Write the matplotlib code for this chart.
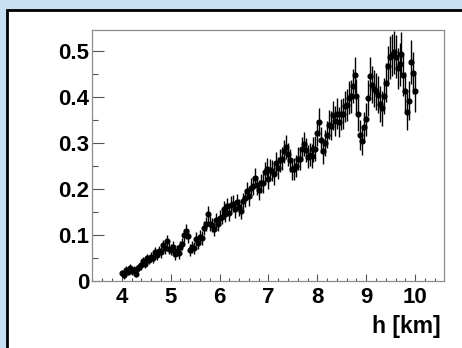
import numpy as np
import matplotlib
matplotlib.use("Agg")
import matplotlib.pyplot as plt
from matplotlib.patches import Rectangle
from matplotlib.ticker import MultipleLocator

plt.rcParams['font.family'] = ['Liberation Sans', 'DejaVu Sans']
plt.rcParams['font.weight'] = 'bold'

# altitude bins (km), 0.04 km wide
h_start = 4.0
h_step = 0.04

# measured values per bin
values = [
    0.018, 0.012, 0.024, 0.019, 0.028, 0.022, 0.025, 0.015, 0.026, 0.031,
    0.034, 0.044, 0.038, 0.049, 0.046, 0.053, 0.050, 0.062, 0.057, 0.066,
    0.063, 0.078, 0.072, 0.086, 0.070, 0.068, 0.075, 0.058, 0.066, 0.060,
    0.074, 0.080, 0.099, 0.108, 0.097, 0.068, 0.074, 0.072, 0.092, 0.082,
    0.096, 0.094, 0.116, 0.124, 0.145, 0.125, 0.122, 0.112, 0.132, 0.124,
    0.138, 0.140, 0.156, 0.146, 0.162, 0.148, 0.166, 0.168, 0.156, 0.172,
    0.160, 0.152, 0.174, 0.180, 0.196, 0.184, 0.202, 0.206, 0.224, 0.208,
    0.198, 0.212, 0.212, 0.236, 0.244, 0.222, 0.242, 0.240, 0.232, 0.256,
    0.246, 0.262, 0.266, 0.282, 0.292, 0.276, 0.262, 0.244, 0.244, 0.250,
    0.266, 0.266, 0.286, 0.298, 0.284, 0.270, 0.274, 0.272, 0.286, 0.288,
    0.322, 0.346, 0.306, 0.282, 0.300, 0.318, 0.340, 0.338, 0.360, 0.348,
    0.364, 0.346, 0.362, 0.364, 0.380, 0.382, 0.398, 0.402, 0.424, 0.448,
    0.402, 0.362, 0.318, 0.305, 0.334, 0.352, 0.398, 0.445, 0.427, 0.418,
    0.412, 0.405, 0.384, 0.376, 0.402, 0.431, 0.468, 0.486, 0.492, 0.497,
    0.488, 0.462, 0.471, 0.493, 0.447, 0.412, 0.368, 0.392, 0.476, 0.452,
    0.412,
]

# uncertainty per bin
errors = [
    0.007, 0.007, 0.008, 0.007, 0.008, 0.008, 0.007, 0.007, 0.008, 0.008,
    0.009, 0.009, 0.009, 0.010, 0.010, 0.010, 0.011, 0.011, 0.011, 0.011,
    0.012, 0.012, 0.013, 0.013, 0.012, 0.012, 0.013, 0.012, 0.012, 0.012,
    0.013, 0.013, 0.014, 0.016, 0.015, 0.013, 0.013, 0.013, 0.014, 0.013,
    0.014, 0.015, 0.015, 0.016, 0.017, 0.016, 0.016, 0.015, 0.016, 0.016,
    0.016, 0.017, 0.017, 0.017, 0.018, 0.017, 0.018, 0.018, 0.018, 0.018,
    0.019, 0.018, 0.018, 0.019, 0.020, 0.020, 0.021, 0.020, 0.021, 0.021,
    0.021, 0.021, 0.021, 0.022, 0.023, 0.022, 0.023, 0.023, 0.023, 0.024,
    0.024, 0.024, 0.025, 0.025, 0.026, 0.025, 0.024, 0.024, 0.024, 0.024,
    0.025, 0.025, 0.026, 0.027, 0.026, 0.025, 0.025, 0.026, 0.027, 0.027,
    0.029, 0.031, 0.028, 0.027, 0.028, 0.029, 0.031, 0.031, 0.032, 0.032,
    0.033, 0.032, 0.033, 0.034, 0.034, 0.035, 0.036, 0.036, 0.037, 0.039,
    0.037, 0.036, 0.033, 0.032, 0.034, 0.036, 0.039, 0.042, 0.041, 0.040,
    0.040, 0.040, 0.039, 0.038, 0.040, 0.042, 0.044, 0.046, 0.046, 0.047,
    0.046, 0.045, 0.046, 0.048, 0.045, 0.043, 0.040, 0.042, 0.047, 0.046,
    0.044,
]

x_ticks = [4, 5, 6, 7, 8, 9, 10]
y_ticks = [0, 0.1, 0.2, 0.3, 0.4, 0.5]
x_label = "h [km]"

h = h_start + h_step * np.arange(len(values))

W, H = 462, 348
fig = plt.figure(figsize=(W / 100, H / 100), dpi=100)
fig.patch.set_facecolor('#c6dff2')

# white pad with black frame, running off the right and bottom edges
pad = Rectangle((7 / W, -0.05), 1.1, (H - 10) / H + 0.05,
                transform=fig.transFigure, facecolor='white',
                edgecolor='black', linewidth=2, zorder=-10)
fig.patches.append(pad)

ax = fig.add_axes([92 / W, 67 / H, 352 / W, 251 / H])
ax.set_facecolor('white')
ax.errorbar(h, values, yerr=errors, fmt='o', color='black', ms=3.4,
            elinewidth=1.0, capsize=0)

ax.set_xlim(3.39, 10.59)
ax.set_ylim(0, 0.5457)
ax.set_xticks(x_ticks)
ax.set_yticks(y_ticks)
ax.set_yticklabels(['0' if v == 0 else f"{v:.1f}" for v in y_ticks])
ax.xaxis.set_minor_locator(MultipleLocator(0.2))
ax.yaxis.set_minor_locator(MultipleLocator(0.05))

for s in ax.spines.values():
    s.set_color('#8c8c8c')
    s.set_linewidth(0.9)

ax.tick_params(axis='both', which='both', direction='in', color='#555555',
               width=0.8, top=False, right=False)
ax.tick_params(axis='x', which='major', length=5.0, pad=4.0, labelsize=16)
ax.tick_params(axis='x', which='minor', length=2.5)
ax.tick_params(axis='y', which='major', length=8.4, pad=2, labelsize=16)
ax.tick_params(axis='y', which='minor', length=4.3)

ax.set_xlabel(x_label, loc='right', fontsize=16.5, fontweight='bold')
ax.xaxis.set_label_coords((441 - 92) / 352, -(326 - 281) / 251)
ax.xaxis.label.set_va('center')

fig.savefig('out.png', dpi=100, facecolor=fig.get_facecolor())
